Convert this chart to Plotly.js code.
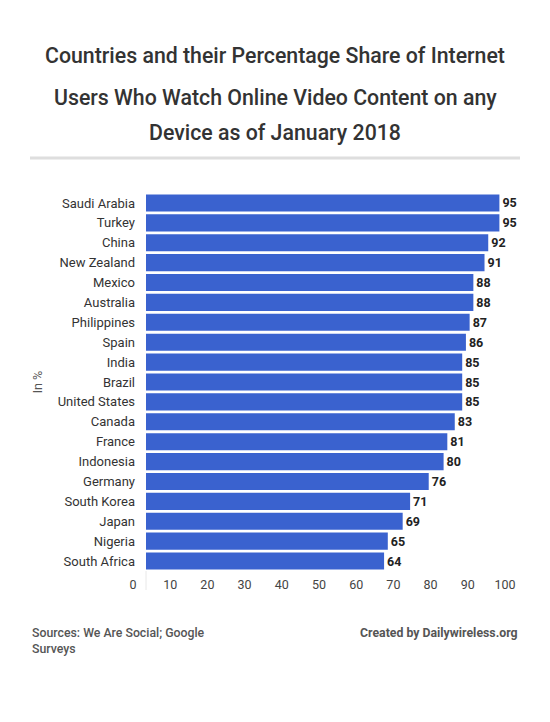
<!DOCTYPE html>
<html><head><meta charset="utf-8">
<script src="https://cdn.plot.ly/plotly-3.0.1.min.js"></script>
<style>html,body{margin:0;padding:0;background:#fff;}#chart{width:550px;height:722px;}</style>
</head><body><div id="chart"></div>
<script>
const countries = ["Saudi Arabia","Turkey","China","New Zealand","Mexico","Australia","Philippines","Spain","India","Brazil","United States","Canada","France","Indonesia","Germany","South Korea","Japan","Nigeria","South Africa"];
const shares = [95,95,92,91,88,88,87,86,85,85,85,83,81,80,76,71,69,65,64];
const xTicks = [0,10,20,30,40,50,60,70,80,90,100];
const titleLines = ["Countries and their Percentage Share of Internet","Users Who Watch Online Video Content on any","Device as of January 2018"];

const plotTop = 193, plotBottom = 571;
const ph = plotBottom - plotTop;
const py = p => (plotBottom - p) / ph;
const pl = 146, pw = 372;
const px = p => (p - pl) / pw;

const trace = {
  type: 'bar', orientation: 'h',
  y: countries, x: shares,
  text: shares.map(String), textposition: 'outside', cliponaxis: false,
  textfont: {family: 'Roboto', size: 12.5, color: '#222', weight: 'bold'},
  marker: {color: '#3a62cf', line: {width: 0}},
  hoverinfo: 'none'
};

const titleY = [55, 97, 133];
const annotations = titleLines.map((t, i) => ({
  text: t, xref: 'paper', yref: 'paper', x: px(275), y: py(titleY[i]),
  xanchor: 'center', yanchor: 'middle', showarrow: false,
  font: {family: 'Roboto', size: 21.3, color: '#333', weight: 500}
}));
annotations.push({text: 'Sources: We Are Social; Google<br>Surveys', xref: 'paper', yref: 'paper',
  x: px(30), y: py(624), xanchor: 'left', yanchor: 'top', align: 'left', showarrow: false,
  font: {family: 'Roboto', size: 12.3, color: '#555', weight: 500}});
annotations.push({text: 'Created by Dailywireless.org', xref: 'paper', yref: 'paper',
  x: px(520), y: py(624), xanchor: 'right', yanchor: 'top', align: 'right', showarrow: false,
  font: {family: 'Roboto', size: 12.3, color: '#555', weight: 'bold'}});

const layout = {
  width: 550, height: 722,
  margin: {l: pl, r: 550 - pl - pw, t: plotTop, b: 722 - plotBottom},
  paper_bgcolor: '#fff', plot_bgcolor: '#fff',
  showlegend: false, bargap: 0.14,
  font: {family: 'Roboto', color: '#333'},
  xaxis: {range: [0, 100], tickvals: xTicks, ticktext: xTicks.map(String),
    showgrid: false, zeroline: false, showline: false, ticks: '',
    ticklabelshift: -13, ticklabelstandoff: 4,
    tickfont: {family: 'Roboto', size: 12.5, color: '#444'}},
  yaxis: {autorange: 'reversed', showgrid: false, zeroline: false, showline: false,
    ticks: '', ticklabelstandoff: 10,
    tickfont: {family: 'Roboto', size: 13, color: '#333'},
    title: {text: 'In %', standoff: 12, font: {family: 'Roboto', size: 12.5, color: '#555'}}},
  shapes: [
    {type: 'line', xref: 'paper', yref: 'paper', x0: px(30), x1: px(520), y0: py(158), y1: py(158),
     line: {color: '#dedede', width: 3}},
    {type: 'line', xref: 'paper', yref: 'paper', x0: 0, x1: 0, y0: py(571), y1: py(590),
     line: {color: '#e8e8e8', width: 1}}
  ],
  annotations: annotations
};
Plotly.newPlot('chart', [trace], layout, {displayModeBar: false, staticPlot: true});
</script></body></html>
